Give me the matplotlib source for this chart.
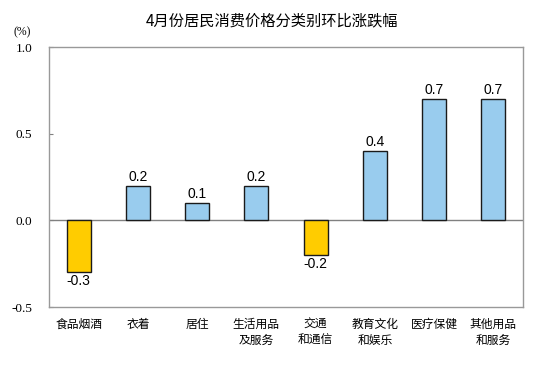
import matplotlib
matplotlib.use("Agg")
from matplotlib import pyplot as plt

plt.rcParams['font.family'] = ['Noto Sans CJK SC', 'DejaVu Sans']

categories = ["食品烟酒", "衣着", "居住", "生活用品\n及服务", "交通\n和通信",
              "教育文化\n和娱乐", "医疗保健", "其他用品\n和服务"]
values = [-0.3, 0.2, 0.1, 0.2, -0.2, 0.4, 0.7, 0.7]
y_ticks = [-0.5, 0.0, 0.5, 1.0]

fig = plt.figure(figsize=(5.44, 3.75), dpi=100)
ax = fig.add_axes([49 / 544, 1 - 307 / 375, 474 / 544, 260 / 375])

colors = ['#FFCC00' if v < 0 else '#99CCEE' for v in values]
x = list(range(len(values)))
ax.bar(x, values, width=0.405, color=colors, edgecolor='#1a1a1a', linewidth=1.0, zorder=3)

for xi, v in zip(x, values):
    if v < 0:
        ax.text(xi, v - 0.01, "%.1f" % v, ha='center', va='top', fontsize=10,
                family=['Liberation Sans'], color='black')
    else:
        ax.text(xi, v + 0.01, "%.1f" % v, ha='center', va='bottom', fontsize=10,
                family=['Liberation Sans'], color='black')

ax.axhline(0, color='#808080', linewidth=1.0, zorder=2)

ax.set_xlim(-0.5, len(values) - 0.5)
ax.set_ylim(-0.5, 1.0)
ax.set_yticks(y_ticks)
ax.set_yticklabels(["%.1f" % t for t in y_ticks], family=['Liberation Serif'], fontsize=9.5)
ax.set_xticks(x)
ax.set_xticklabels(categories, fontsize=8.5, linespacing=1.3, va='top')
ax.tick_params(axis='x', length=0, pad=8)
ax.tick_params(axis='y', length=3, direction='in', color='#808080', pad=12)

for s in ax.spines.values():
    s.set_color('#999999')
    s.set_linewidth(1.0)

fig.text(13 / 544, 1 - 32 / 375, "(%)", ha='left', va='center', fontsize=8.5,
         family=['Liberation Serif'])
fig.text(0.5, 1 - 21 / 375, "4月份居民消费价格分类别环比涨跌幅", ha='center', va='center',
         fontsize=11)

fig.savefig("out.png", dpi=100)
